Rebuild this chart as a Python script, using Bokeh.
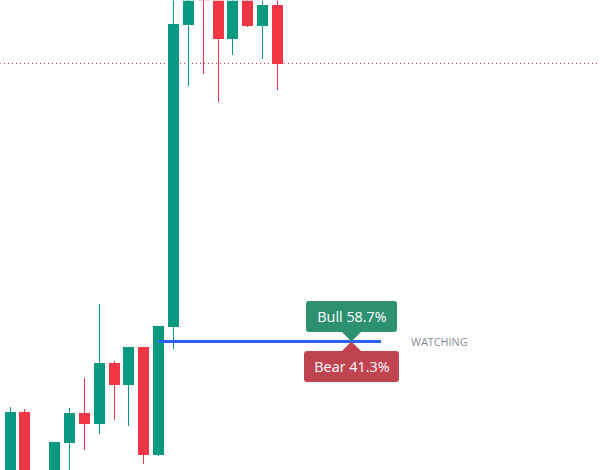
from math import floor
from bokeh.plotting import figure
from bokeh.models import Range1d, Span, ColumnDataSource
from bokeh.core.properties import value
from bokeh.embed import file_html
from bokeh.resources import INLINE

# Prices (off-screen ends estimated)
idx    = [0, 1, 3, 4, 5, 6, 7, 8, 9, 10, 11, 12, 13, 14, 15, 16, 17, 18]
open_  = [-20, 58, -15, 27, 57, 46, 107, 85, 123, 15, 143, 445, 530, 500, 431, 495, 444, 465]
close  = [58, -20, 28, 57, 46, 107, 85, 123, 15, 144, 446, 490, 500, 431, 495, 444, 465, 406]
high   = [63, 61, 28, 62, 92, 166, 109, 123, 123, 144, 490, 510, 540, 520, 510, 505, 480, 480]
low    = [-30, -30, -30, 0, 20, 36, 50, 44, 6, 14, 121, 384, 396, 368, 415, 443, 411, 380]

dotted_level = 406.5
watch_level = 128.5
bull_label = "Bull 58.7%"
bear_label = "Bear 41.3%"
status_label = "WATCHING"

UP, DOWN = "#089981", "#f23645"
BULL_BG, BEAR_BG = "#2d9070", "#bf4450"


def bar_x(i):
    """Bar index to horizontal position, snapped to the pixel grid as the source chart does."""
    return floor(10.1 + 14.86 * i) + 0.5


# Half-pixel range offsets cancel the half-pixel translation of the SVG canvas
p = figure(width=600, height=470, output_backend="svg", toolbar_location=None,
           x_range=Range1d(0.5, 600.5), y_range=Range1d(-0.5, 469.5),
           min_border=0, outline_line_color=None)
p.axis.visible = False
p.grid.visible = False
p.background_fill_color = "white"

p.segment([0], [dotted_level], [600], [dotted_level], line_color="#f23645",
          line_width=1, line_dash="1 3")

colors = [UP if c >= o else DOWN for o, c in zip(open_, close)]
src = ColumnDataSource(dict(x=[bar_x(i) for i in idx],
                            top=[max(o, c) for o, c in zip(open_, close)],
                            bottom=[min(o, c) for o, c in zip(open_, close)],
                            high=high, low=low, color=colors))
p.segment("x", "high", "x", "low", source=src, line_color="color", line_width=1)
p.vbar("x", 11, "top", "bottom", source=src, fill_color="color", line_color=None)

p.segment([bar_x(10)], [watch_level], [381], [watch_level], line_color="#2962ff", line_width=3)

# Bull / Bear callouts, positioned relative to the watch level
ax = 351.5
y0 = watch_level
p.patch([ax, ax - 10, ax + 10], [y0, y0 + 10, y0 + 10], fill_color=BULL_BG, line_color=None)
p.patch([ax, ax - 11, ax + 11], [y0, y0 - 11, y0 - 11], fill_color=BEAR_BG, line_color=None)
p.quad(left=[306], right=[397], bottom=[138], top=[169],
       fill_color=BULL_BG, line_color=None, border_radius=3)
p.quad(left=[304], right=[399], bottom=[88], top=[119],
       fill_color=BEAR_BG, line_color=None, border_radius=3)
p.text([352], [154], text=[bull_label], text_color="white", text_font=value("Open Sans"),
       text_font_size="14.4px", text_align="center", text_baseline="middle")
p.text([352], [104], text=[bear_label], text_color="white", text_font=value("Open Sans"),
       text_font_size="14.4px", text_align="center", text_baseline="middle")
p.text([411], [y0 + 0.5], text=[status_label], text_color="#868b98", text_font=value("Open Sans"),
       text_font_size="10.8px", text_align="left", text_baseline="middle")

open("out.html", "w").write(file_html(p, INLINE))
